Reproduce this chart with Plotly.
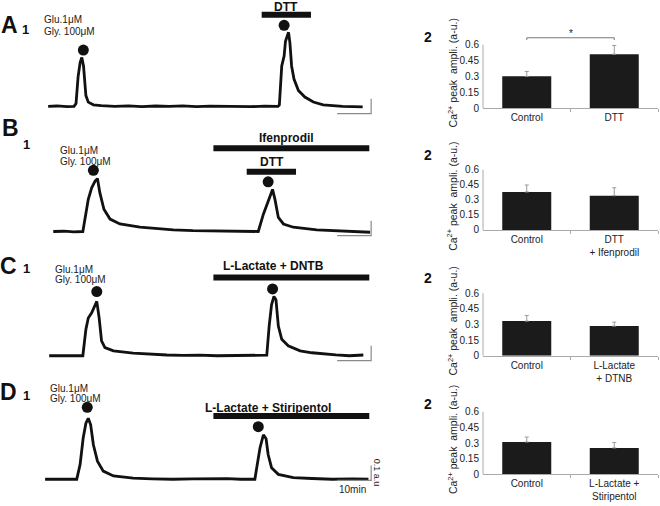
import plotly.graph_objects as go

W, H = 660, 506
FONT = "Liberation Sans, Arial, sans-serif"
INK = "#111111"

# ---------------- Ca2+ imaging traces (time in min, signal in a.u.) ----------------
A_time = [2.4, 5, 8, 10.0, 10.6, 11.2, 11.8, 12.3, 12.8, 13.5, 14.2, 15.7, 18, 22, 26, 30, 34, 38, 42,
          46, 50, 54, 58, 62, 66, 70.0, 70.4, 71.1, 71.8, 72.2, 72.7, 73.1, 73.5, 74.0, 74.7, 76.0,
          77.9, 80.4, 83.3, 86, 89, 92, 94.9]
A_signal = [0.0, 0.003, -0.002, 0.0, 0.02, 0.2, 0.296, 0.33, 0.273, 0.073, 0.029, 0.011, 0.005, 0.0,
            0.004, -0.002, 0.003, 0.0, 0.004, -0.002, 0.002, 0.0, 0.003, -0.002, 0.002, 0.0, 0.01,
            0.273, 0.34, 0.44, 0.473, 0.50, 0.43, 0.273, 0.185, 0.107, 0.063, 0.03, 0.011, 0.005, 0.0,
            -0.002, -0.003]

B_time = [3.9, 7, 10, 12.6, 14.2, 15.2, 16.2, 16.9, 17.6, 18.8, 20.6, 23.5, 29.4, 34, 39.2, 45, 50,
          55, 60, 63.7, 64.2, 65.7, 66.7, 67.9, 68.4, 69.1, 70.1, 71.6, 74.5, 81.4, 86, 92, 97.1]
B_signal = [0.0, 0.002, -0.002, 0.0, 0.217, 0.295, 0.34, 0.357, 0.262, 0.15, 0.084, 0.051, 0.029,
            0.02, 0.011, 0.006, 0.004, 0.002, 0.003, 0.002, 0.0, 0.117, 0.184, 0.25, 0.284, 0.217,
            0.095, 0.051, 0.029, 0.011, 0.005, 0.0, -0.005]

C_time = [2.7, 6, 9, 12.6, 13.5, 14.2, 15.2, 16.7, 17.4, 18.1, 19.1, 21.6, 27.4, 32, 37.3, 42, 47,
          52, 57, 62, 66.7, 67.4, 68.1, 68.8, 69.4, 70.1, 71.1, 73.0, 76.5, 80, 83.3, 87, 91, 95.1]
C_signal = [0.0, 0.001, 0.0, 0.0, 0.178, 0.255, 0.289, 0.367, 0.255, 0.1, 0.055, 0.033, 0.018, 0.01,
            0.005, 0.002, 0.004, 0.0, 0.002, 0.0, 0.004, 0.2, 0.344, 0.4, 0.378, 0.2, 0.111, 0.067,
            0.033, 0.02, 0.011, 0.006, 0.0, 0.005]

D_time = [1.5, 5, 8, 10.8, 11.8, 12.7, 13.5, 14.2, 14.9, 15.7, 16.9, 18.6, 21.6, 27.4, 33, 39, 45,
          50, 55, 59, 63.2, 63.9, 64.7, 65.7, 66.5, 67.1, 68.1, 70.1, 74.5, 80, 86, 92, 96.6]
D_signal = [0.0, 0.001, 0.0, 0.0, 0.1, 0.278, 0.378, 0.411, 0.367, 0.233, 0.122, 0.055, 0.022, 0.007,
            0.003, 0.0, 0.003, 0.006, 0.004, 0.0, 0.0, 0.1, 0.211, 0.3, 0.273, 0.167, 0.078, 0.033,
            0.011, 0.005, 0.0, 0.003, 0.0]

# drug application bars
A_drug_names = ["DTT"]
A_drug_start = [65.2]
A_drug_end = [79.7]
A_drug_level = [0.618]
A_label_x = [72.4]
A_label_y = [0.672]

B_drug_names = ["Ifenprodil", "DTT"]
B_drug_start = [51.0, 60.8]
B_drug_end = [96.85, 75.3]
B_drug_level = [0.562, 0.404]
B_label_x = [72.6, 68.1]
B_label_y = [0.633, 0.467]

C_drug_names = ["L-Lactate + DNTB"]
C_drug_start = [51.0]
C_drug_end = [96.85]
C_drug_level = [0.527]
C_label_x = [68.6]
C_label_y = [0.605]

D_drug_names = ["L-Lactate + Stiripentol"]
D_drug_start = [51.0]
D_drug_end = [96.85]
D_drug_level = [0.427]
D_label_x = [67.1]
D_label_y = [0.482]

# Glu/Gly application dots
A_dot_time = [12.75, 71.8]
A_dot_level = [0.38, 0.547]
B_dot_time = [15.7, 67.1]
B_dot_level = [0.413, 0.335]
C_dot_time = [16.7, 68.4]
C_dot_level = [0.433, 0.451]
D_dot_time = [13.9, 64.2]
D_dot_level = [0.485, 0.355]

# scale bar (10 min x 0.1 a.u.)
scale_start = 87.4
scale_minutes = 10
scale_amp = 0.1
scale_levels = [-0.049, -0.027, -0.033, -0.007]

# ---------------- bar charts: Ca2+ peak amplitude ----------------
A_categories = ["Control", "DTT"]
A_values = [0.30, 0.51]
A_errors = [0.047, 0.083]
B_categories = ["Control", "DTT<br>+ Ifenprodil"]
B_values = [0.378, 0.341]
B_errors = [0.069, 0.079]
C_categories = ["Control", "L-Lactate<br>+ DTNB"]
C_values = [0.332, 0.284]
C_errors = [0.054, 0.038]
D_categories = ["Control", "L-Lactate +<br>Stiripentol"]
D_values = [0.31, 0.253]
D_errors = [0.047, 0.053]

y_tick_vals = [0, 0.15, 0.3, 0.45, 0.6]
y_tick_text = ["0", "0.15", "0.3", "0.45", "0.6"]
sig_pair = [0, 1]
sig_level = 0.666
sig_drop = 0.021
sig_label = "*"

letters = ["A", "B", "C", "D"]

# ---------------- layout geometry (pixels) ----------------
def fx(px):
    return px / W

def fy(px):
    return 1 - px / H

trace_x_px = (40, 375)
px_per_min = 3.4
px_per_au = 150
trace_baselines = [107.7, 234.3, 360, 485]
trace_yrange = [-0.08, 0.70]

bar_x_px = (483, 658)
bar_bottoms = [109.3, 232.7, 360, 480]
bar_ppu = [106.7, 101.7, 105.5, 105.5]
bar_ymax = 0.72

panels = [
    dict(t=A_time, s=A_signal, dn=A_drug_names, ds=A_drug_start, de=A_drug_end, dl=A_drug_level,
         lx=A_label_x, ly=A_label_y, dt=A_dot_time, dlv=A_dot_level,
         cat=A_categories, val=A_values, err=A_errors),
    dict(t=B_time, s=B_signal, dn=B_drug_names, ds=B_drug_start, de=B_drug_end, dl=B_drug_level,
         lx=B_label_x, ly=B_label_y, dt=B_dot_time, dlv=B_dot_level,
         cat=B_categories, val=B_values, err=B_errors),
    dict(t=C_time, s=C_signal, dn=C_drug_names, ds=C_drug_start, de=C_drug_end, dl=C_drug_level,
         lx=C_label_x, ly=C_label_y, dt=C_dot_time, dlv=C_dot_level,
         cat=C_categories, val=C_values, err=C_errors),
    dict(t=D_time, s=D_signal, dn=D_drug_names, ds=D_drug_start, de=D_drug_end, dl=D_drug_level,
         lx=D_label_x, ly=D_label_y, dt=D_dot_time, dlv=D_dot_level,
         cat=D_categories, val=D_values, err=D_errors),
]

fig = go.Figure()
layout = dict(
    width=W, height=H, margin=dict(l=0, r=0, t=0, b=0),
    paper_bgcolor="white", plot_bgcolor="white", showlegend=False,
    font=dict(family=FONT, size=10, color="#222"),
)
annotations = []
shapes = []


def ann(text, xpx, ypx, size, bold=False, xanchor="center", color=INK, angle=0):
    annotations.append(dict(
        text=f"<b>{text}</b>" if bold else text, x=fx(xpx), y=fy(ypx), xref="paper", yref="paper",
        showarrow=False, xanchor=xanchor, yanchor="middle", textangle=angle,
        font=dict(family=FONT, size=size, color=color)))


x_range_max = (trace_x_px[1] - trace_x_px[0]) / px_per_min

for i, p in enumerate(panels):
    k = i + 1          # trace subplot axes
    b = i + 5          # bar subplot axes
    xa, ya = f"x{k}", f"y{k}"
    xb, yb = f"x{b}", f"y{b}"

    # ---- trace panel ----
    base = trace_baselines[i]
    top_px = base - trace_yrange[1] * px_per_au
    bot_px = base - trace_yrange[0] * px_per_au
    layout[f"xaxis{k}"] = dict(domain=[fx(trace_x_px[0]), fx(trace_x_px[1])], range=[0, x_range_max],
                               visible=False, anchor=ya)
    layout[f"yaxis{k}"] = dict(domain=[fy(bot_px), fy(top_px)], range=trace_yrange,
                               visible=False, anchor=xa)

    fig.add_trace(go.Scatter(x=p["t"], y=p["s"], mode="lines", line=dict(color=INK, width=2.8),
                             xaxis=xa, yaxis=ya, hoverinfo="skip"))
    for name, s0, e0, lv, lx, ly in zip(p["dn"], p["ds"], p["de"], p["dl"], p["lx"], p["ly"]):
        fig.add_trace(go.Scatter(x=[s0, e0], y=[lv, lv], mode="lines", line=dict(color=INK, width=6),
                                 xaxis=xa, yaxis=ya, hoverinfo="skip"))
        annotations.append(dict(text=f"<b>{name}</b>", x=lx, y=ly, xref=xa, yref=ya, showarrow=False,
                                font=dict(family=FONT, size=12, color=INK)))
    fig.add_trace(go.Scatter(x=p["dt"], y=p["dlv"], mode="markers",
                             marker=dict(color=INK, size=11, symbol="circle"), cliponaxis=False,
                             xaxis=xa, yaxis=ya, hoverinfo="skip"))
    lv = scale_levels[i]
    fig.add_trace(go.Scatter(x=[scale_start, scale_start + scale_minutes, scale_start + scale_minutes],
                             y=[lv, lv, lv + scale_amp], mode="lines",
                             line=dict(color="#8a8a8a", width=1.2), xaxis=xa, yaxis=ya, hoverinfo="skip"))
    if i == 3:
        annotations.append(dict(text="10min", x=scale_start + scale_minutes / 2, y=lv, xref=xa, yref=ya,
                                showarrow=False, yanchor="top", yshift=-2, xshift=-2,
                                font=dict(family=FONT, size=10, color="#222")))
        annotations.append(dict(text="0.1 a.u", x=scale_start + scale_minutes, y=lv + scale_amp / 2,
                                xref=xa, yref=ya, showarrow=False, textangle=90, xshift=6,
                                font=dict(family=FONT, size=9, color="#222")))

    # ---- bar chart panel ----
    bbot = bar_bottoms[i]
    btop = bbot - bar_ymax * bar_ppu[i]
    layout[f"xaxis{b}"] = dict(domain=[fx(bar_x_px[0]), fx(bar_x_px[1])], range=[-0.5, 1.5],
                               tickvals=[0, 1], ticktext=p["cat"], ticks="", showgrid=False,
                               zeroline=False, showline=True, linecolor="#aaaaaa", linewidth=1,
                               tickfont=dict(family=FONT, size=10, color="#222"), anchor=yb,
                               minor=dict(tickvals=[0.5, 1.5], ticks="outside", ticklen=3,
                                          tickcolor="#aaaaaa", showgrid=False))
    layout[f"yaxis{b}"] = dict(domain=[fy(bbot), fy(btop)], range=[0, bar_ymax],
                               tickvals=y_tick_vals, ticktext=y_tick_text, ticks="", showgrid=False,
                               zeroline=False, showline=False, anchor=xb, ticklabelstandoff=3,
                               tickfont=dict(family=FONT, size=10, color="#222"))
    fig.add_trace(go.Bar(x=[0, 1], y=p["val"], width=0.56, marker=dict(color="#1b1b1b", line=dict(width=0)),
                         error_y=dict(type="data", symmetric=False, array=p["err"], arrayminus=[0, 0],
                                      color="#9a9a9a", thickness=1, width=2),
                         xaxis=xb, yaxis=yb, hoverinfo="skip"))
    shapes.append(dict(type="line", xref="paper", yref=yb, x0=fx(bar_x_px[0]), x1=fx(bar_x_px[0]),
                       y0=0, y1=y_tick_vals[-1], line=dict(color="#aaaaaa", width=1)))
    if i == 0:
        a0, a1 = sig_pair
        shapes.append(dict(type="path", xref=xb, yref=yb,
                           path=f"M {a0},{sig_level - sig_drop} L {a0},{sig_level} L {a1},{sig_level} "
                                f"L {a1},{sig_level - sig_drop}",
                           line=dict(color="#777777", width=1)))
        annotations.append(dict(text=sig_label, x=(a0 + a1) / 2, y=sig_level, xref=xb, yref=yb,
                                showarrow=False, yanchor="bottom", yshift=-3,
                                font=dict(family=FONT, size=10, color="#222")))

    # y-axis title of bar chart
    ann("Ca<sup>2+</sup> peak  ampli. (a-u.)", 452, (bbot + (bbot - 0.6 * bar_ppu[i])) / 2 - 3, 10.5,
        angle=-90, color="#222")

# panel letters and sub-labels
letter_pos = [(9, 25.5), (10, 130), (8, 269), (8, 396.7)]
one_pos = [(25, 30), (26.7, 146.7), (26.7, 272), (26.7, 400)]
two_pos = [37, 156.7, 281, 409]
glu_pos = [(41.7, 20, 31.7), (58, 152.3, 163.3), (53.3, 272.7, 283.3), (48.3, 392.7, 403.3)]
for i in range(4):
    ann(letters[i], letter_pos[i][0], letter_pos[i][1], 23, bold=True)
    ann("1", one_pos[i][0], one_pos[i][1], 13, bold=True)
    ann("2", 428, two_pos[i], 14, bold=True)
    gx, gy1, gy2 = glu_pos[i]
    ann("Glu.1\u03bcM", gx, gy1, 10, xanchor="left", color="#222")
    ann("Gly. 100\u03bcM", gx, gy2, 10, xanchor="left", color="#222")

layout["annotations"] = annotations
layout["shapes"] = shapes
fig.update_layout(**layout)
fig.write_html("out.html", config={"displayModeBar": False},
               post_script="document.body.style.margin='0';document.body.style.padding='0';")
